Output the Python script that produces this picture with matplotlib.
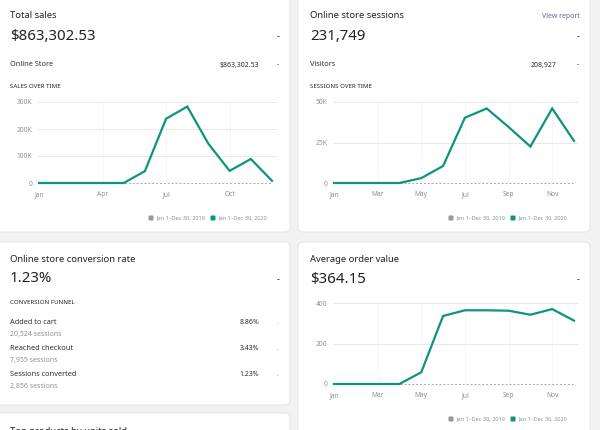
import matplotlib
matplotlib.use("Agg")
import matplotlib.pyplot as plt
from matplotlib.patches import FancyBboxPatch

plt.rcParams["font.family"] = ["Noto Sans", "DejaVu Sans"]

# --- data -------------------------------------------------------------
months = ["Jan", "Feb", "Mar", "Apr", "May", "Jun",
          "Jul", "Aug", "Sep", "Oct", "Nov", "Dec"]

sales_2020 = [0, 0, 0, 0, 0, 44000, 238000, 283000, 145000, 45000, 89000, 8000]
sales_2019 = [0] * 12
sessions_2020 = [0, 0, 0, 0, 3000, 10500, 40300, 46000, 34600, 22500, 46000, 26000]
sessions_2019 = [0] * 12
aov_2020 = [0, 0, 0, 0, 58, 336, 364, 364, 362, 342, 370, 313]
aov_2019 = [0] * 12

funnel_steps = ["Added to cart", "Reached checkout", "Sessions converted"]
funnel_sessions = ["20,524 sessions", "7,955 sessions", "2,856 sessions"]
funnel_rates = ["8.86%", "3.43%", "1.23%"]

legend_labels = ["Jan 1\u2013Dec 30, 2019", "Jan 1\u2013Dec 30, 2020"]

# --- style ------------------------------------------------------------
W, H = 600, 430
BG = "#f2f2f2"
CARD = "#ffffff"
TEAL = "#0e947b"
PREV = "#a8a8a8"
GRID = "#e9e9e9"
TXT = "#202223"

fig = plt.figure(figsize=(W / 100, H / 100), dpi=100, facecolor=BG)
bg = fig.add_axes([0, 0, 1, 1])
bg.set_xlim(0, W)
bg.set_ylim(H, 0)
bg.axis("off")


def card(x0, y0, x1, y1):
    bg.add_patch(FancyBboxPatch((x0, y0), x1 - x0, y1 - y0,
                                boxstyle="round,pad=0,rounding_size=5",
                                fc=CARD, ec="#e2e2e2", lw=0.6))


def txt(x, y, s, size, color=TXT, ha="left", weight="normal"):
    bg.text(x, y, s, fontsize=size, color=color, ha=ha, va="center",
            fontweight=weight)


def legend(x, y):
    # grey square = previous year, teal square = current year
    for dx, col, lab in [(0, "#999999", legend_labels[0]), (62, TEAL, legend_labels[1])]:
        bg.add_patch(FancyBboxPatch((x + dx - 2.5, y - 2.5), 5, 5,
                                    boxstyle="round,pad=0,rounding_size=1",
                                    fc=col, ec="none"))
        txt(x + dx + 5, y, lab, 4.0, color="#8c9196")


def chart(left, right, y0, ytop, ymax, yticks, ylabels, xticks, cur, prev):
    ax = fig.add_axes([left / W, (H - y0) / H, (right - left) / W, (y0 - ytop) / H])
    ax.set_facecolor("none")
    step = (right - left - 4) / 11.0
    ax.set_xlim(0, 11 + 4 / step)
    ax.set_ylim(0, ymax)
    for s in ax.spines.values():
        s.set_visible(False)
    for t in yticks[1:]:
        ax.plot([-1.5 / step, 11 + 4 / step], [t, t], color=GRID, lw=0.7,
                clip_on=False, zorder=1)
    for i in xticks[1:]:
        ax.axvline(i, color="#e4e4e4", lw=0.6, ls=(0, (1, 1.5)), zorder=1)
    x = list(range(12))
    ax.plot(x, prev, color=PREV, lw=0.7, ls=(0, (2, 2)), zorder=2, clip_on=False)
    ax.plot(x, cur, color=TEAL, lw=1.6, zorder=3, clip_on=False,
            solid_joinstyle="miter")
    ax.set_yticks(yticks)
    ax.set_yticklabels(ylabels)
    ax.set_xticks(xticks)
    ax.set_xticklabels([months[i] for i in xticks])
    ax.tick_params(length=0, labelsize=4.8, labelcolor="#8c9196")
    ax.tick_params(axis="y", pad=5)
    ax.tick_params(axis="x", pad=6)
    return ax


# --- cards ------------------------------------------------------------
card(-6, -6, 290, 232)
card(298, -6, 590, 232)
card(-6, 242, 290, 405)
card(298, 242, 590, 440)
card(-6, 413, 290, 440)

# Total sales
txt(10, 16, "Total sales", 6.8)
txt(10, 36, "$863,302.53", 10.8)
txt(278, 37, "-", 6.5, ha="center")
txt(10, 65, "Online Store", 5.3, color="#303030")
txt(259, 65, "$863,302.53", 5.0, color="#303030", ha="right")
txt(278, 65, "-", 5.0, ha="center")
txt(10, 86, "SALES OVER TIME", 4.4)
chart(39, 276, 183, 102, 300000, [0, 100000, 200000, 300000],
      ["0", "100K", "200K", "300K"], [0, 3, 6, 9], sales_2020, sales_2019)
legend(151, 218)

# Online store sessions
txt(310, 16, "Online store sessions", 6.8)
txt(580, 17, "View report", 5.0, color="#5a6b8e", ha="right")
txt(310, 36, "231,749", 10.8)
txt(578, 37, "-", 6.5, ha="center")
txt(310, 65, "Visitors", 5.3, color="#303030")
txt(557, 65, "208,927", 5.0, color="#303030", ha="right")
txt(578, 65, "-", 5.0, ha="center")
txt(310, 86, "SESSIONS OVER TIME", 4.4)
chart(334, 578, 183, 102, 50000, [0, 25000, 50000],
      ["0", "25K", "50K"], [0, 2, 4, 6, 8, 10], sessions_2020, sessions_2019)
legend(451, 218)

# Conversion rate
txt(10, 259, "Online store conversion rate", 6.8)
txt(10, 279, "1.23%", 10.8)
txt(278, 280, "-", 6.5, ha="center")
txt(10, 303, "CONVERSION FUNNEL", 4.4)
for i, (step_name, sess, rate) in enumerate(zip(funnel_steps, funnel_sessions, funnel_rates)):
    y = 323 + i * 26
    txt(10, y, step_name, 5.3, color="#303030")
    txt(10, y + 11.5, sess, 5.0, color="#8c9196")
    txt(259, y, rate, 5.0, color="#303030", ha="right")
    txt(278, y + 1, "-", 4.0, color="#8c9196", ha="center")

# Average order value
txt(310, 259, "Average order value", 6.8)
txt(310, 279, "$364.15", 10.8)
txt(578, 280, "-", 6.5, ha="center")
chart(334, 578, 384, 303, 400, [0, 200, 400],
      ["0", "200", "400"], [0, 2, 4, 6, 8, 10], aov_2020, aov_2019)
legend(451, 419)

# Next card (cut off at the bottom edge, as in the reference)
bg.text(10, 426.5, "Top products by units sold", fontsize=6.8, color=TXT,
        ha="left", va="top")

fig.savefig("out.png", dpi=100, facecolor=BG)
